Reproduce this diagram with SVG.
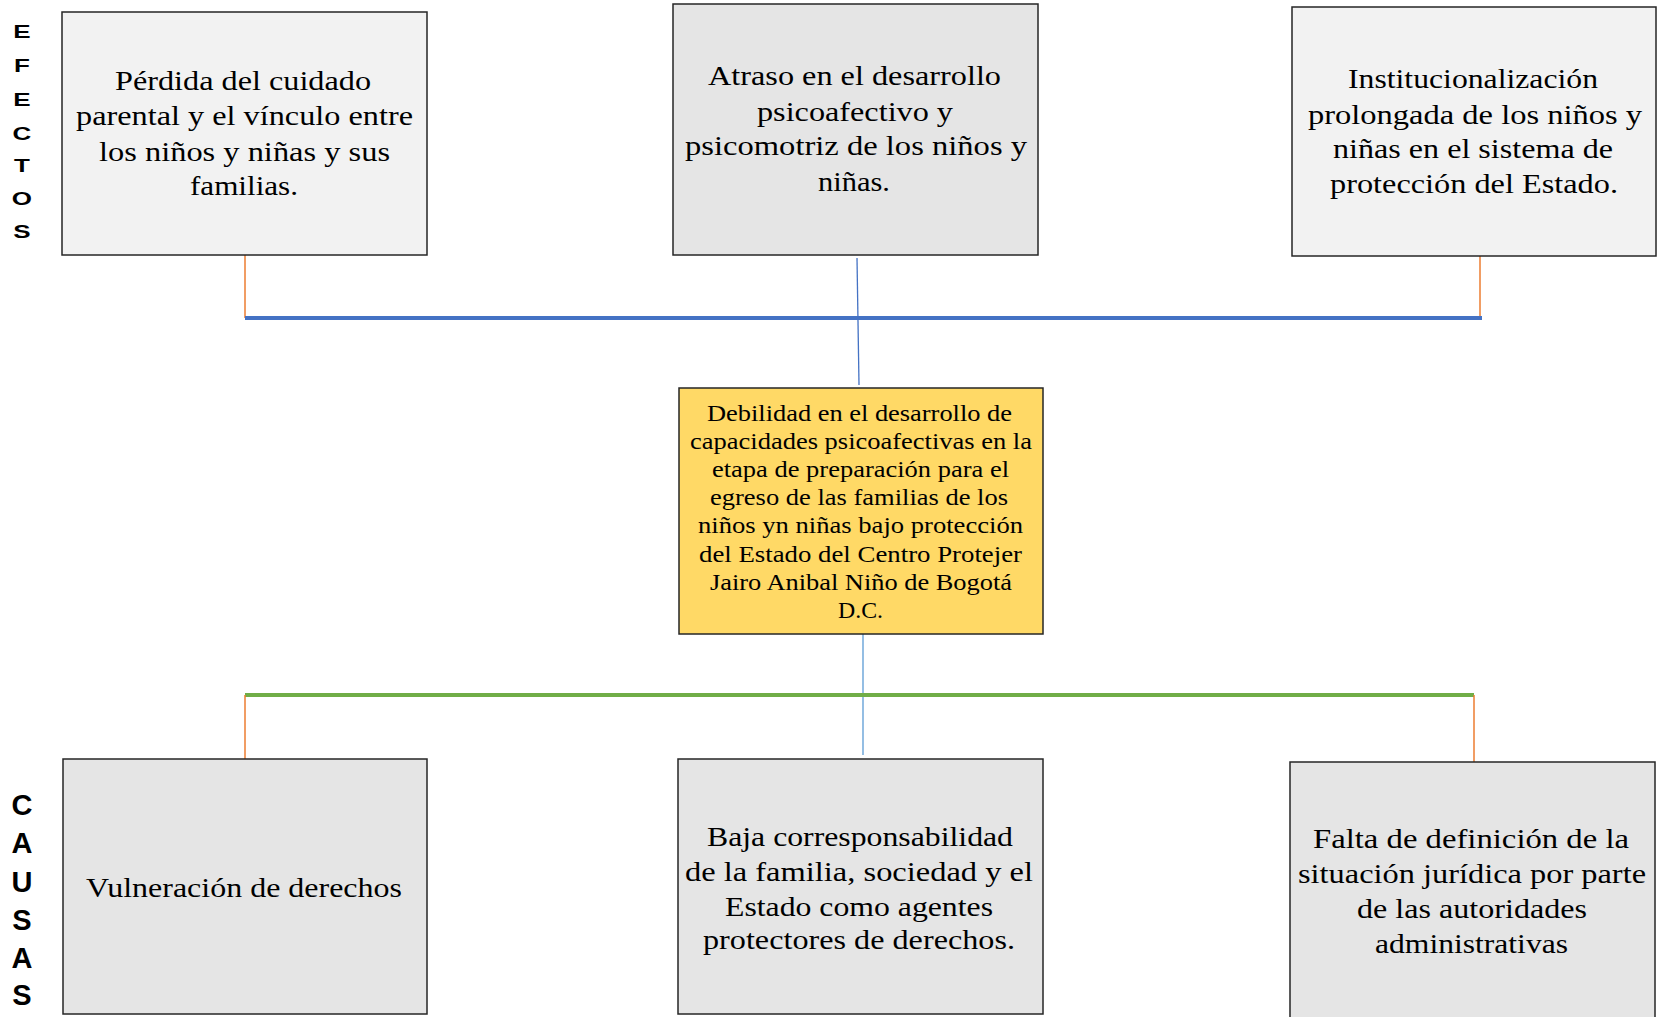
<svg xmlns="http://www.w3.org/2000/svg" width="1657" height="1017" viewBox="0 0 1657 1017">
<style>
.box{stroke:#262626;stroke-width:1.5}
.light{fill:#f2f2f2}
.gray{fill:#e5e5e5}
.yellow{fill:#ffd966}
.t{font-family:"Liberation Serif","Times New Roman",serif;font-size:28px;fill:#000}
.tc{font-family:"Liberation Serif","Times New Roman",serif;font-size:24px;fill:#000}
.side{font-family:"Liberation Sans",Arial,sans-serif;font-weight:bold;fill:#000;text-anchor:middle}
</style>
<rect width="1657" height="1017" fill="#ffffff"/>
<g id="labels">
<text class="side" style="font-size:26px" transform="scale(1,0.72)"><tspan x="22" y="52.8">E</tspan><tspan x="22" y="100">F</tspan><tspan x="22" y="147.2">E</tspan><tspan x="22" y="194.4">C</tspan><tspan x="22" y="238.9">T</tspan><tspan x="22" y="284.7">O</tspan><tspan x="22" y="330.6">S</tspan></text>
<text class="side" style="font-size:29px"><tspan x="22" y="815">C</tspan><tspan x="22" y="853">A</tspan><tspan x="22" y="892">U</tspan><tspan x="22" y="930">S</tspan><tspan x="22" y="968">A</tspan><tspan x="22" y="1005">S</tspan></text>
</g>
<g id="connectors" fill="none">
<line x1="245" y1="255" x2="245" y2="318" stroke="#ed7d31" stroke-width="1.5"/>
<line x1="1480" y1="256" x2="1480" y2="318" stroke="#ed7d31" stroke-width="1.5"/>
<line x1="245" y1="318" x2="1482" y2="318" stroke="#4472c4" stroke-width="4"/>
<line x1="857" y1="258" x2="859" y2="385" stroke="#4472c4" stroke-width="1.3"/>
<line x1="863" y1="634" x2="863" y2="755" stroke="#5b9bd5" stroke-width="1.3"/>
<line x1="245" y1="695" x2="1474" y2="695" stroke="#70ad47" stroke-width="4"/>
<line x1="245" y1="695" x2="245" y2="759" stroke="#ed7d31" stroke-width="1.5"/>
<line x1="1474" y1="695" x2="1474" y2="762" stroke="#ed7d31" stroke-width="1.5"/>
</g>
<g id="efecto1">
<rect class="box light" x="62" y="12" width="365" height="243"/>
<text class="t" x="115" y="90" textLength="256" lengthAdjust="spacingAndGlyphs">Pérdida del cuidado</text>
<text class="t" x="76" y="125" textLength="337" lengthAdjust="spacingAndGlyphs">parental  y el vínculo entre</text>
<text class="t" x="99" y="161" textLength="291" lengthAdjust="spacingAndGlyphs">los niños y niñas y sus</text>
<text class="t" x="190" y="195" textLength="108" lengthAdjust="spacingAndGlyphs">familias.</text>
</g>
<g id="efecto2">
<rect class="box gray" x="673" y="4" width="365" height="251"/>
<text class="t" x="708" y="85" textLength="293" lengthAdjust="spacingAndGlyphs">Atraso  en  el desarrollo</text>
<text class="t" x="757" y="121" textLength="196" lengthAdjust="spacingAndGlyphs">psicoafectivo  y</text>
<text class="t" x="685" y="155" textLength="342" lengthAdjust="spacingAndGlyphs">psicomotriz de los niños y</text>
<text class="t" x="818" y="191" textLength="72" lengthAdjust="spacingAndGlyphs">niñas.</text>
</g>
<g id="efecto3">
<rect class="box light" x="1292" y="7" width="364" height="249"/>
<text class="t" x="1348" y="88" textLength="250" lengthAdjust="spacingAndGlyphs">Institucionalización</text>
<text class="t" x="1308" y="124" textLength="334" lengthAdjust="spacingAndGlyphs">prolongada de los niños y</text>
<text class="t" x="1333" y="158" textLength="280" lengthAdjust="spacingAndGlyphs">niñas en el sistema de</text>
<text class="t" x="1330" y="193" textLength="288" lengthAdjust="spacingAndGlyphs">protección del Estado.</text>
</g>
<g id="problema">
<rect class="box yellow" x="679" y="388" width="364" height="246"/>
<text class="tc" x="707" y="421" textLength="305" lengthAdjust="spacingAndGlyphs">Debilidad en el desarrollo de</text>
<text class="tc" x="690" y="449" textLength="342" lengthAdjust="spacingAndGlyphs">capacidades  psicoafectivas en la</text>
<text class="tc" x="712" y="477" textLength="297" lengthAdjust="spacingAndGlyphs">etapa de preparación para el</text>
<text class="tc" x="710" y="505" textLength="298" lengthAdjust="spacingAndGlyphs">egreso de las familias de los</text>
<text class="tc" x="698" y="533" textLength="325" lengthAdjust="spacingAndGlyphs">niños yn niñas bajo protección</text>
<text class="tc" x="699" y="562" textLength="323" lengthAdjust="spacingAndGlyphs">del Estado del Centro Protejer</text>
<text class="tc" x="710" y="590" textLength="302" lengthAdjust="spacingAndGlyphs">Jairo Anibal  Niño de Bogotá</text>
<text class="tc" x="838" y="618" textLength="45" lengthAdjust="spacingAndGlyphs">D.C.</text>
</g>
<g id="causa1">
<rect class="box gray" x="63" y="759" width="364" height="255"/>
<text class="t" x="86" y="897" textLength="316" lengthAdjust="spacingAndGlyphs">Vulneración de derechos</text>
</g>
<g id="causa2">
<rect class="box gray" x="678" y="759" width="365" height="255"/>
<text class="t" x="707" y="846" textLength="306" lengthAdjust="spacingAndGlyphs">Baja corresponsabilidad</text>
<text class="t" x="685" y="881" textLength="348" lengthAdjust="spacingAndGlyphs">de la familia, sociedad y el</text>
<text class="t" x="725" y="916" textLength="268" lengthAdjust="spacingAndGlyphs">Estado como agentes</text>
<text class="t" x="703" y="949" textLength="312" lengthAdjust="spacingAndGlyphs">protectores de derechos.</text>
</g>
<g id="causa3">
<rect class="box gray" x="1290" y="762" width="365" height="262"/>
<text class="t" x="1313" y="848" textLength="316" lengthAdjust="spacingAndGlyphs">Falta de definición de la</text>
<text class="t" x="1298" y="883" textLength="348" lengthAdjust="spacingAndGlyphs">situación jurídica por parte</text>
<text class="t" x="1357" y="918" textLength="230" lengthAdjust="spacingAndGlyphs">de las autoridades</text>
<text class="t" x="1375" y="953" textLength="193" lengthAdjust="spacingAndGlyphs">administrativas</text>
</g>
</svg>
